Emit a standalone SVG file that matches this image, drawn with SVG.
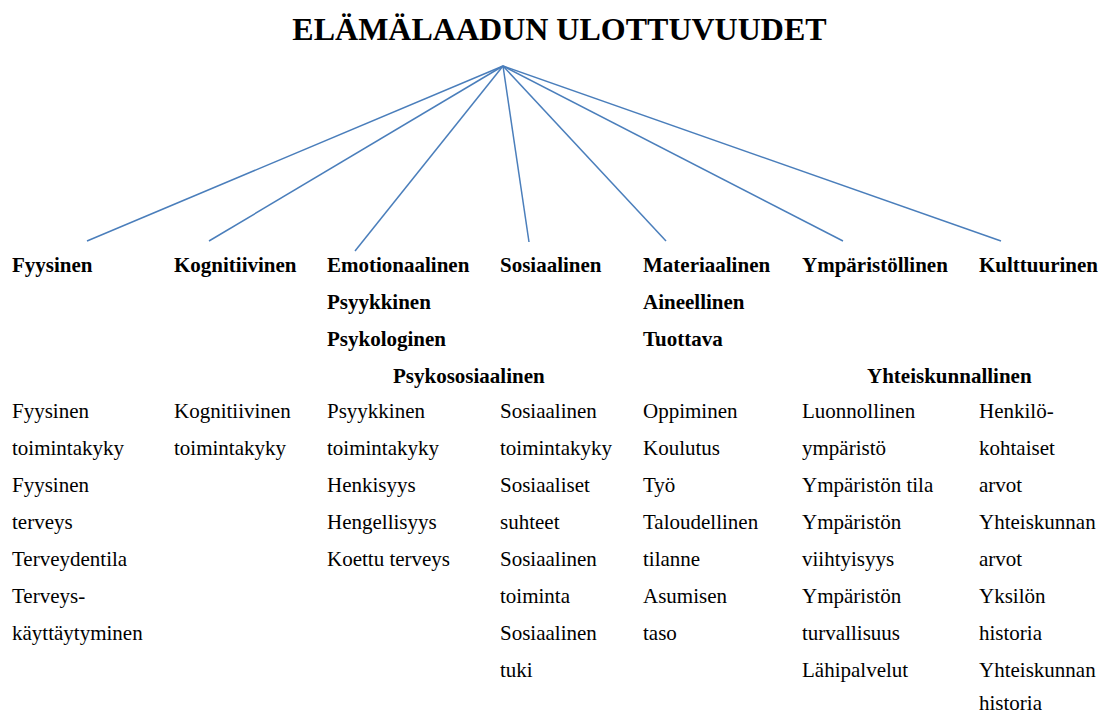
<svg xmlns="http://www.w3.org/2000/svg" width="1101" height="715" viewBox="0 0 1101 715">
<style>
text{font-family:"Liberation Serif","Tinos","Times New Roman","Nimbus Roman","DejaVu Serif",serif;fill:#000;}
.title{font-size:32px;font-weight:bold;text-anchor:middle;}
.h{font-size:21px;font-weight:bold;}
.t{font-size:21px;}
.c line{stroke:#4a7ebb;stroke-width:1.5;fill:none;}
</style>
<rect width="1101" height="715" fill="#fff"/>
<g id="root"><text class="title" x="559.5" y="40" font-family="Liberation Serif, serif">ELÄMÄLAADUN ULOTTUVUUDET</text></g>
<g class="c" id="connectors">
<line x1="503" y1="66" x2="87" y2="241"/>
<line x1="503" y1="66" x2="209" y2="241"/>
<line x1="503" y1="66" x2="355" y2="251"/>
<line x1="503" y1="66" x2="529" y2="242"/>
<line x1="503" y1="66" x2="666" y2="241"/>
<line x1="503" y1="66" x2="843" y2="241"/>
<line x1="503" y1="66" x2="1001" y2="241"/>
</g>
<g id="fyysinen">
<text class="h" x="12" y="272">Fyysinen</text>
<text class="t" x="12" y="418">Fyysinen</text>
<text class="t" x="12" y="455">toimintakyky</text>
<text class="t" x="12" y="492">Fyysinen</text>
<text class="t" x="12" y="529">terveys</text>
<text class="t" x="12" y="566">Terveydentila</text>
<text class="t" x="12" y="603">Terveys-</text>
<text class="t" x="12" y="640">käyttäytyminen</text>
</g>
<g id="kognitiivinen">
<text class="h" x="174" y="272">Kognitiivinen</text>
<text class="t" x="174" y="418">Kognitiivinen</text>
<text class="t" x="174" y="455">toimintakyky</text>
</g>
<g id="emotionaalinen">
<text class="h" x="327" y="272">Emotionaalinen</text>
<text class="h" x="327" y="309">Psyykkinen</text>
<text class="h" x="327" y="346">Psykologinen</text>
<text class="t" x="327" y="418">Psyykkinen</text>
<text class="t" x="327" y="455">toimintakyky</text>
<text class="t" x="327" y="492">Henkisyys</text>
<text class="t" x="327" y="529">Hengellisyys</text>
<text class="t" x="327" y="566">Koettu terveys</text>
</g>
<g id="psykososiaalinen"><text class="h" x="393" y="383">Psykososiaalinen</text></g>
<g id="sosiaalinen">
<text class="h" x="500" y="272">Sosiaalinen</text>
<text class="t" x="500" y="418">Sosiaalinen</text>
<text class="t" x="500" y="455">toimintakyky</text>
<text class="t" x="500" y="492">Sosiaaliset</text>
<text class="t" x="500" y="529">suhteet</text>
<text class="t" x="500" y="566">Sosiaalinen</text>
<text class="t" x="500" y="603">toiminta</text>
<text class="t" x="500" y="640">Sosiaalinen</text>
<text class="t" x="500" y="677">tuki</text>
</g>
<g id="materiaalinen">
<text class="h" x="643" y="272">Materiaalinen</text>
<text class="h" x="643" y="309">Aineellinen</text>
<text class="h" x="643" y="346">Tuottava</text>
<text class="t" x="643" y="418">Oppiminen</text>
<text class="t" x="643" y="455">Koulutus</text>
<text class="t" x="643" y="492">Työ</text>
<text class="t" x="643" y="529">Taloudellinen</text>
<text class="t" x="643" y="566">tilanne</text>
<text class="t" x="643" y="603">Asumisen</text>
<text class="t" x="643" y="640">taso</text>
</g>
<g id="ymparistollinen">
<text class="h" x="802" y="272">Ympäristöllinen</text>
<text class="t" x="802" y="418">Luonnollinen</text>
<text class="t" x="802" y="455">ympäristö</text>
<text class="t" x="802" y="492">Ympäristön tila</text>
<text class="t" x="802" y="529">Ympäristön</text>
<text class="t" x="802" y="566">viihtyisyys</text>
<text class="t" x="802" y="603">Ympäristön</text>
<text class="t" x="802" y="640">turvallisuus</text>
<text class="t" x="802" y="677">Lähipalvelut</text>
</g>
<g id="yhteiskunnallinen"><text class="h" x="867" y="383">Yhteiskunnallinen</text></g>
<g id="kulttuurinen">
<text class="h" x="979" y="272">Kulttuurinen</text>
<text class="t" x="979" y="418">Henkilö-</text>
<text class="t" x="979" y="455">kohtaiset</text>
<text class="t" x="979" y="492">arvot</text>
<text class="t" x="979" y="529">Yhteiskunnan</text>
<text class="t" x="979" y="566">arvot</text>
<text class="t" x="979" y="603">Yksilön</text>
<text class="t" x="979" y="640">historia</text>
<text class="t" x="979" y="677">Yhteiskunnan</text>
<text class="t" x="979" y="710">historia</text>
</g>
</svg>
